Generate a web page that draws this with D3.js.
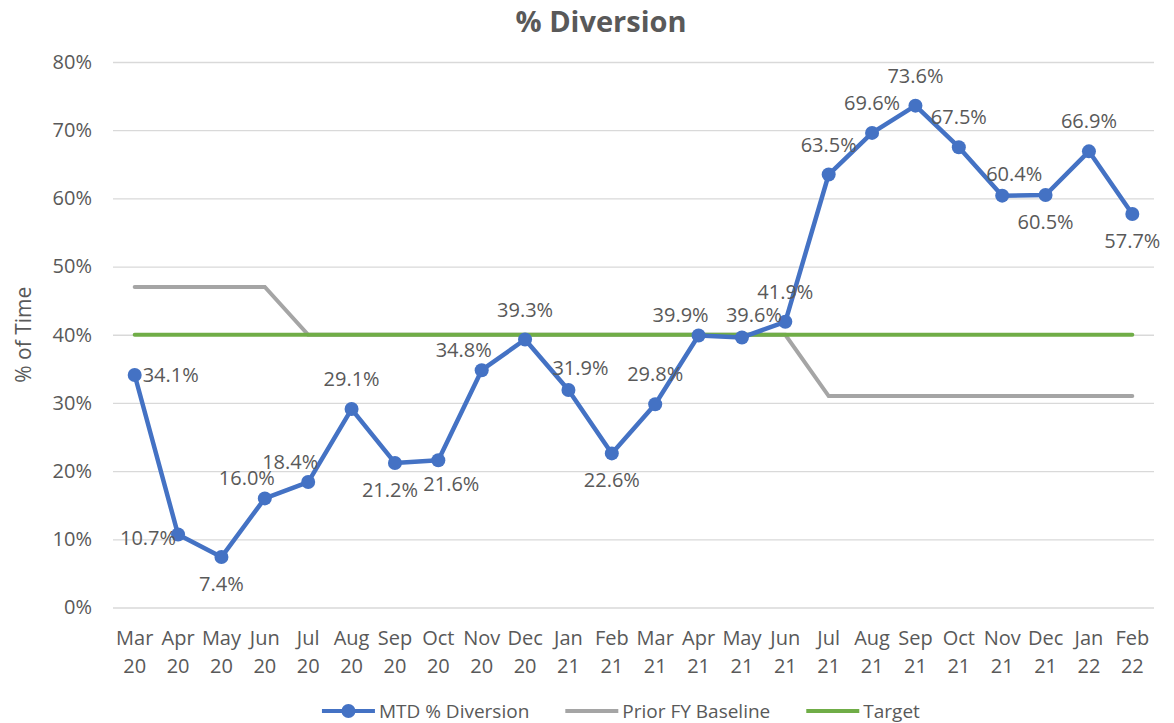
<!DOCTYPE html>
<html>
<head>
<meta charset="utf-8">
<script src="https://cdn.jsdelivr.net/npm/d3@7"></script>
<style>
  body { margin: 0; background: #fff; }
  text { font-family: "Open Sans", "Noto Sans", sans-serif; fill: #595959; }
</style>
</head>
<body>
<div id="chart"></div>
<script>
//////////////////////////// data /////////////////////////////////////////

const months = [
	"Mar 20", "Apr 20", "May 20", "Jun 20", "Jul 20", "Aug 20", "Sep 20", "Oct 20",
	"Nov 20", "Dec 20", "Jan 21", "Feb 21", "Mar 21", "Apr 21", "May 21", "Jun 21",
	"Jul 21", "Aug 21", "Sep 21", "Oct 21", "Nov 21", "Dec 21", "Jan 22", "Feb 22"
];

const mtdDiversion = [
	34.1, 10.7, 7.4, 16.0, 18.4, 29.1, 21.2, 21.6, 34.8, 39.3, 31.9, 22.6,
	29.8, 39.9, 39.6, 41.9, 63.5, 69.6, 73.6, 67.5, 60.4, 60.5, 66.9, 57.7
];

const priorBaseline = [
	47, 47, 47, 47, 40, 40, 40, 40, 40, 40, 40, 40,
	40, 40, 40, 40, 31, 31, 31, 31, 31, 31, 31, 31
];

const target = [
	40, 40, 40, 40, 40, 40, 40, 40, 40, 40, 40, 40,
	40, 40, 40, 40, 40, 40, 40, 40, 40, 40, 40, 40
];

// where excel dropped each data label
const labelPlace = [
	"r", "l", "b", "tl", "tl", "t", "bl", "br", "tl", "t", "tr", "b",
	"t", "tl", "tr", "t", "t", "t", "t", "t", "tr", "b", "t", "b"
];

const yTicks = [0, 10, 20, 30, 40, 50, 60, 70, 80];

const seriesNames = ["MTD % Diversion", "Prior FY Baseline", "Target"];

//////////////////////////// sizes ///////////////////////////////////////

const width = 1174;
const height = 723;
const margin = { top: 62, left: 113 };
const plotRight = 1154;
const plotBottom = 607.5;

const colors = { mtd: "#4472C4", base: "#A5A5A5", target: "#70AD47" };

const svg = d3.select("#chart").append("svg")
	.attr("width", width)
	.attr("height", height);

//////////////////////////// scales ///////////////////////////////////////

const xScale = d3.scalePoint()
	.domain(months)
	.range([margin.left, plotRight])
	.padding(0.5);

const yScale = d3.scaleLinear()
	.domain([0, 80])
	.range([plotBottom, margin.top]);

//////////////////////////// gridlines / axes /////////////////////////////

const yAxis = svg.append("g")
	.attr("transform", `translate(${margin.left},0)`)
	.call(d3.axisLeft(yScale)
		.tickValues(yTicks)
		.tickSize(-(plotRight - margin.left))
		.tickPadding(21)
		.tickFormat((d) => d + "%"));

yAxis.select(".domain").remove();
yAxis.selectAll("line").attr("stroke", "#D9D9D9").attr("stroke-width", 1.3);
yAxis.selectAll("text")
	.style("font-size", "20px")
	.attr("fill", "#595959");

// month labels, two lines each
const xLabels = svg.append("g").attr("class", "xLabels");
months.forEach((m) => {
	const parts = m.split(" ");
	const x = xScale(m);
	xLabels.append("text")
		.attr("x", x)
		.attr("y", plotBottom + 37)
		.attr("text-anchor", "middle")
		.style("font-size", "20px")
		.text(parts[0]);
	xLabels.append("text")
		.attr("x", x)
		.attr("y", plotBottom + 65)
		.attr("text-anchor", "middle")
		.style("font-size", "20px")
		.text(parts[1]);
});

//////////////////////////// titles ///////////////////////////////////////

svg.append("text")
	.attr("x", 601)
	.attr("y", 32)
	.attr("text-anchor", "middle")
	.style("font-size", "29px")
	.style("font-weight", "bold")
	.text("% Diversion");

svg.append("text")
	.attr("transform", `translate(31,${(margin.top + plotBottom) / 2}) rotate(-90)`)
	.attr("text-anchor", "middle")
	.style("font-size", "21px")
	.text("% of Time");

//////////////////////////// lines ////////////////////////////////////////

const line = d3.line()
	.x((d, i) => xScale(months[i]))
	.y((d) => yScale(d));

svg.append("path")
	.datum(priorBaseline)
	.attr("d", line)
	.attr("fill", "none")
	.attr("stroke", colors.base)
	.attr("stroke-width", 4)
	.attr("stroke-linecap", "round");

svg.append("path")
	.datum(target)
	.attr("d", line)
	.attr("fill", "none")
	.attr("stroke", colors.target)
	.attr("stroke-width", 4)
	.attr("stroke-linecap", "round");

svg.append("path")
	.datum(mtdDiversion)
	.attr("d", line)
	.attr("fill", "none")
	.attr("stroke", colors.mtd)
	.attr("stroke-width", 4.5)
	.attr("stroke-linejoin", "round");

svg.selectAll(".dot")
	.data(mtdDiversion)
	.enter()
	.append("circle")
	.attr("class", "dot")
	.attr("cx", (d, i) => xScale(months[i]))
	.attr("cy", (d) => yScale(d))
	.attr("r", 7)
	.attr("fill", colors.mtd);

//////////////////////////// data labels //////////////////////////////////

const offsets = {
	t: [0, -30, "middle"],
	b: [0, 27, "middle"],
	bl: [-5, 27, "middle"],
	br: [13, 24, "middle"],
	l: [-2, 3, "end"],
	r: [8, 0, "start"],
	tl: [-18, -20, "middle"],
	tr: [12, -22, "middle"]
};

svg.selectAll(".lbl")
	.data(mtdDiversion)
	.enter()
	.append("text")
	.attr("class", "lbl")
	.attr("x", (d, i) => xScale(months[i]) + offsets[labelPlace[i]][0])
	.attr("y", (d, i) => yScale(d) + offsets[labelPlace[i]][1])
	.attr("dy", "0.35em")
	.attr("text-anchor", (d, i) => offsets[labelPlace[i]][2])
	.style("font-size", "20px")
	.text((d) => d.toFixed(1) + "%");

//////////////////////////// legend ///////////////////////////////////////

const legend = svg.append("g").attr("transform", "translate(0,711)");
const swatch = 53;
const gapText = 4;
const gapItem = 36;
const legendColors = [colors.mtd, colors.base, colors.target];

const items = legend.selectAll(".item")
	.data(seriesNames)
	.enter()
	.append("g")
	.attr("class", "item");

items.append("line")
	.attr("x1", 0)
	.attr("x2", swatch)
	.attr("stroke", (d, i) => legendColors[i])
	.attr("stroke-width", 4);

items.filter((d, i) => i === 0)
	.append("circle")
	.attr("cx", swatch / 2)
	.attr("r", 7)
	.attr("fill", colors.mtd);

items.append("text")
	.attr("x", swatch + gapText)
	.attr("dy", "0.35em")
	.style("font-size", "19px")
	.text((d) => d);

let widths = [];
items.each(function () {
	widths.push(this.getBBox().width);
});
const total = d3.sum(widths) + gapItem * (widths.length - 1);
let xPos = 621 - total / 2;
items.each(function (d, i) {
	d3.select(this).attr("transform", `translate(${xPos},0)`);
	xPos += widths[i] + gapItem;
});
</script>
</body>
</html>
